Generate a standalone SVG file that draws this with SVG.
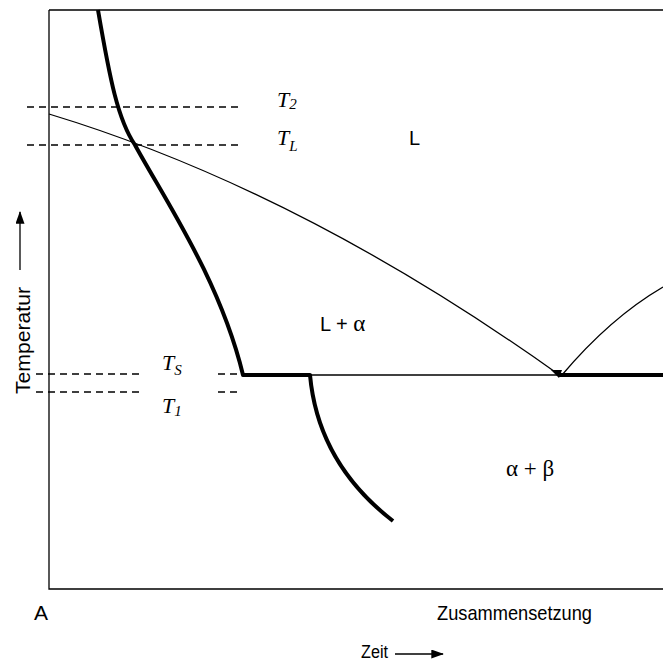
<svg xmlns="http://www.w3.org/2000/svg" width="663" height="663" viewBox="0 0 663 663">
<style>
.thin{fill:none;stroke:#000;stroke-width:1.3}
.thick{fill:none;stroke:#000;stroke-width:4;stroke-linejoin:round}
.dash{fill:none;stroke:#000;stroke-width:1.3;stroke-dasharray:7,5}
.sans{font-family:"Liberation Sans",Arial,sans-serif;fill:#000}
.it{font-family:"Liberation Serif","Times New Roman",serif;font-style:italic;fill:#000;font-size:22px}
.sub{font-size:15px}
.gr{font-family:"Liberation Serif","Times New Roman",serif;fill:#000}
</style>
<defs>
<marker id="ah" viewBox="0 0 14 10" refX="13" refY="5" markerWidth="14" markerHeight="9" markerUnits="userSpaceOnUse" orient="auto"><path d="M0,0 L14,5 L0,10 z" fill="#000"/></marker>
</defs>
<rect width="663" height="663" fill="#fff"/>
<g id="frame">
<path class="thin" d="M49,10 L663,10 M49,10 L49,589 L663,589"/>
</g>
<g id="connectors">
<path class="dash" d="M27,107 L238,107"/>
<path class="dash" d="M27,145 L238,145"/>
<path class="dash" d="M36,374 L142,374 M218,374 L243,374"/>
<path class="dash" d="M36,392 L140,392 M218,392 L240,392"/>
<path class="thin" d="M49,114 Q300,190 558,374"/>
<path class="thin" d="M562,375 Q610,318 663,287"/>
<path class="thin" d="M243,375 L663,375"/>
<path class="thick" d="M98,10 C110,80 118,120 135,145 C165,200 220,280 243,375 L310,375 C315,430 340,480 393,521"/>
<path class="thick" d="M558,375 L663,375"/>
<path d="M551,370 L562,370 L559,378 z" fill="#000"/>
<path class="thin" d="M20,270 L20,212" stroke-width="2.2" marker-end="url(#ah)"/>
<path class="thin" d="M395,654 L443,654" stroke-width="2.2" marker-end="url(#ah)"/>
</g>
<g id="labels">
<text class="it" x="277" y="107">T<tspan class="sub" dy="2">2</tspan></text>
<text class="it" x="277" y="145">T<tspan class="sub" dy="6">L</tspan></text>
<text class="it" x="162" y="370">T<tspan class="sub" dy="5">S</tspan></text>
<text class="it" x="162" y="413">T<tspan class="sub" dy="3">1</tspan></text>
<text class="sans" x="409" y="145" font-size="20">L</text>
<text class="sans" x="320" y="331" font-size="20">L + <tspan class="gr" font-size="23">α</tspan></text>
<text class="gr" x="506" y="476" font-size="23">α + β</text>
<text class="sans" x="34" y="620" font-size="21">A</text>
<text class="sans" x="437" y="620" font-size="21" textLength="155" lengthAdjust="spacingAndGlyphs">Zusammensetzung</text>
<text class="sans" x="361" y="658" font-size="18" textLength="27" lengthAdjust="spacingAndGlyphs">Zeit</text>
<text class="sans" font-size="20" transform="translate(30,394) rotate(-90)" textLength="107" lengthAdjust="spacingAndGlyphs">Temperatur</text>
</g>
</svg>
